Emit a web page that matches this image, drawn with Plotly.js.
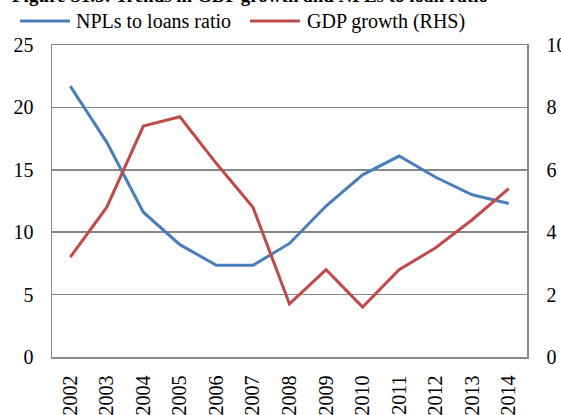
<!DOCTYPE html>
<html><head><meta charset="utf-8">
<script src="https://cdn.plot.ly/plotly-3.0.1.min.js"></script>
<style>html,body{margin:0;padding:0;background:#fff;}#chart{width:561px;height:415px;}</style>
</head><body><div id="chart"></div>
<script>
const years = ['2002','2003','2004','2005','2006','2007','2008','2009','2010','2011','2012','2013','2014'];
const nplRatio = [21.7, 17.2, 11.6, 9.0, 7.35, 7.35, 9.1, 12.1, 14.6, 16.1, 14.4, 13.0, 12.3];
const gdpGrowth = [3.2, 4.8, 7.4, 7.7, 6.2, 4.8, 1.7, 2.8, 1.6, 2.8, 3.5, 4.4, 5.4];
const seriesNames = ['NPLs to loans ratio', 'GDP growth (RHS)'];
const seriesColors = ['#4a7ebb', '#be4b48'];
const titleText = 'Figure S1.5: Trends in GDP growth and NPLs to loan ratio';

const font = 'Liberation Serif';
const gridCol = '#888888';

const W = 561, H = 415, M = {l: 52, r: 34, t: 45, b: 58};
const pw = W - M.l - M.r, ph = H - M.t - M.b;
const px = x => (x - M.l) / pw;          // pixel x -> paper x
const py = y => (H - M.b - y) / ph;      // pixel y -> paper y

const traces = [
  {x: years, y: nplRatio, name: seriesNames[0], type: 'scatter', mode: 'lines',
   line: {color: seriesColors[0], width: 3}, yaxis: 'y'},
  {x: years, y: gdpGrowth, name: seriesNames[1], type: 'scatter', mode: 'lines',
   line: {color: seriesColors[1], width: 3}, yaxis: 'y2'}
];

// custom legend (long sample lines like the original)
const legendItems = [{x0: 20, x1: 70, tx: 74}, {x0: 250, x1: 300, tx: 305}];
const shapes = legendItems.map((it, i) => ({type: 'line', xref: 'paper', yref: 'paper',
  x0: px(it.x0), x1: px(it.x1), y0: py(21), y1: py(21),
  line: {color: seriesColors[i], width: 3}}));
const annotations = legendItems.map((it, i) => ({text: seriesNames[i], xref: 'paper', yref: 'paper',
  x: px(it.tx), y: py(21), xanchor: 'left', yanchor: 'middle', showarrow: false,
  font: {family: font, size: 20, color: '#000'}}));
annotations.push({text: '<b>' + titleText + '</b>', xref: 'paper', yref: 'paper', x: px(250), y: py(0),
  xanchor: 'center', yanchor: 'middle', yshift: 5, showarrow: false,
  font: {family: font, size: 19, color: '#000'}});

const layout = {
  width: W, height: H, margin: M,
  paper_bgcolor: '#fff', plot_bgcolor: '#fff',
  font: {family: font, size: 20, color: '#000'},
  showlegend: false,
  xaxis: {type: 'category', range: [-0.5, 12.5], tickangle: -90, showgrid: false,
    showline: true, linecolor: gridCol, linewidth: 1.5, mirror: true, ticks: '',
    ticklabelstandoff: 9, tickfont: {family: font, size: 20}},
  yaxis: {range: [0, 25], dtick: 5, showgrid: true, gridcolor: gridCol, gridwidth: 1.5,
    showline: true, linecolor: gridCol, linewidth: 1.5, ticks: '', zeroline: false,
    ticklabelstandoff: 13, tickfont: {family: font, size: 20}},
  yaxis2: {range: [0, 10], dtick: 2, overlaying: 'y', side: 'right', showgrid: false,
    showline: true, linecolor: gridCol, linewidth: 1.5, ticks: '', zeroline: false,
    ticklabelstandoff: 14, tickfont: {family: font, size: 20}},
  shapes: shapes,
  annotations: annotations
};

Plotly.newPlot('chart', traces, layout, {displayModeBar: false, staticPlot: true});
</script></body></html>
